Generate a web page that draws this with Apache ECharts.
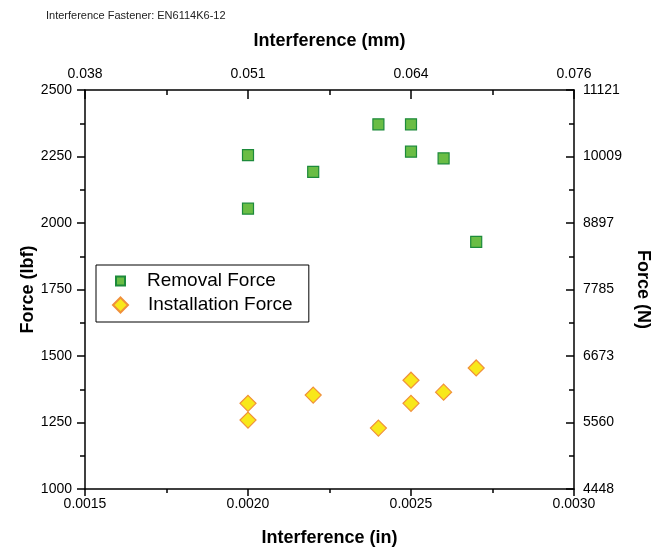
<!DOCTYPE html>
<html>
<head>
<meta charset="utf-8">
<script src="https://cdn.jsdelivr.net/npm/echarts@6/dist/echarts.min.js"></script>
<style>
  html, body { margin: 0; padding: 0; background: #fff; }
  #chart { width: 654px; height: 548px; }
</style>
</head>
<body>
<div id="chart"></div>
<script>
// interference (in) vs force (lbf)
var removalX = [0.0020, 0.0020, 0.0022, 0.0024, 0.0025, 0.0025, 0.0026, 0.0027];
var removalY = [2255, 2054, 2192, 2371, 2371, 2268, 2243, 1929];
var installX = [0.0020, 0.0020, 0.0022, 0.0024, 0.0025, 0.0025, 0.0026, 0.0027];
var installY = [1322, 1259, 1353, 1229, 1409, 1322, 1364, 1455];

// secondary axis tick labels
var mmLabels = ['0.038', '0.051', '0.064', '0.076'];
var newtonLabels = ['4448', '5560', '6673', '7785', '8897', '10009', '11121'];

function pairs(xs, ys) {
    return xs.map(function (x, i) { return [x, ys[i]]; });
}

var FONT = '"Liberation Sans", Arial, sans-serif';
var axisLineStyle = {color: '#000', width: 1.5};

var chart = echarts.init(document.getElementById('chart'));

var option = {
    backgroundColor: '#fff',
    animation: false,
    title: {
        text: 'Interference Fastener: EN6114K6-12',
        left: 41,
        top: 5,
        textStyle: {fontFamily: FONT, fontSize: 11, fontWeight: 'normal', color: '#222'}
    },
    grid: {left: 85, right: 80, top: 90, bottom: 59, outerBoundsMode: 'none', containLabel: false},
    legend: [
        {
            data: ['Removal Force'],
            left: 96,
            top: 265,
            padding: [6, 33, 31, 19],
            borderColor: '#000',
            borderWidth: 1,
            itemWidth: 9,
            itemHeight: 9,
            textStyle: {fontFamily: FONT, fontSize: 19, color: '#000', lineHeight: 20, padding: [0, 0, 0, 17]}
        },
        {
            data: ['Installation Force'],
            left: 112,
            top: 295,
            padding: 0,
            itemWidth: 15,
            itemHeight: 15,
            textStyle: {fontFamily: FONT, fontSize: 19, color: '#000', lineHeight: 20, padding: [0, 0, 0, 15]}
        }
    ],
    xAxis: [
        {
            type: 'value',
            position: 'bottom',
            min: 0.0015,
            max: 0.0030,
            interval: 0.0005,
            name: 'Interference (in)',
            nameLocation: 'middle',
            nameGap: 40,
            nameTextStyle: {fontFamily: FONT, fontSize: 18, fontWeight: 'bold', color: '#000'},
            axisLine: {lineStyle: axisLineStyle},
            axisTick: {inside: false, length: 7, lineStyle: axisLineStyle},
            minorTick: {show: true, splitNumber: 2, length: 4, lineStyle: {color: '#000', width: 1.5}},
            splitLine: {show: false},
            axisLabel: {
                margin: 8,
                fontFamily: FONT, fontSize: 14, color: '#000',
                formatter: function (v) { return v.toFixed(4); }
            }
        },
        {
            type: 'value',
            position: 'top',
            min: 0.0015,
            max: 0.0030,
            interval: 0.0005,
            name: 'Interference (mm)',
            nameLocation: 'middle',
            nameGap: 40,
            nameTextStyle: {fontFamily: FONT, fontSize: 18, fontWeight: 'bold', color: '#000'},
            axisLine: {lineStyle: axisLineStyle},
            axisTick: {inside: true, length: 9, lineStyle: axisLineStyle},
            minorTick: {show: true, splitNumber: 2, length: 5, lineStyle: {color: '#000', width: 1.5}},
            splitLine: {show: false},
            axisLabel: {
                margin: 9,
                fontFamily: FONT, fontSize: 14, color: '#000',
                formatter: function (v) { return mmLabels[Math.round((v - 0.0015) / 0.0005)]; }
            }
        }
    ],
    yAxis: [
        {
            type: 'value',
            position: 'left',
            min: 1000,
            max: 2500,
            interval: 250,
            name: 'Force (lbf)',
            nameLocation: 'middle',
            nameGap: 48,
            nameMoveOverlap: false,
            nameRotate: 90,
            nameTextStyle: {fontFamily: FONT, fontSize: 18, fontWeight: 'bold', color: '#000'},
            axisLine: {lineStyle: axisLineStyle},
            axisTick: {inside: false, length: 8, lineStyle: axisLineStyle},
            minorTick: {show: true, splitNumber: 2, length: 5, lineStyle: {color: '#000', width: 1.5}},
            splitLine: {show: false},
            axisLabel: {
                margin: 13, fontFamily: FONT, fontSize: 14, color: '#000',
                formatter: function (v) { return String(v); }
            }
        },
        {
            type: 'value',
            position: 'right',
            min: 1000,
            max: 2500,
            interval: 250,
            name: 'Force (N)',
            nameLocation: 'middle',
            nameGap: 60,
            nameRotate: -90,
            nameTextStyle: {fontFamily: FONT, fontSize: 18, fontWeight: 'bold', color: '#000'},
            axisLine: {lineStyle: axisLineStyle},
            axisTick: {inside: true, length: 8, lineStyle: axisLineStyle},
            minorTick: {show: true, splitNumber: 2, length: 5, lineStyle: {color: '#000', width: 1.5}},
            splitLine: {show: false},
            axisLabel: {
                margin: 9,
                fontFamily: FONT, fontSize: 14, color: '#000',
                formatter: function (v) { return newtonLabels[Math.round((v - 1000) / 250)]; }
            }
        }
    ],
    series: [
        {
            name: 'Removal Force',
            type: 'scatter',
            symbol: 'rect',
            symbolSize: 11,
            itemStyle: {color: '#6abd45', borderColor: '#1d8a3b', borderWidth: 1.2, opacity: 1},
            data: pairs(removalX, removalY)
        },
        {
            name: 'Installation Force',
            type: 'scatter',
            symbol: 'diamond',
            symbolSize: 16,
            itemStyle: {color: '#f8e81a', borderColor: '#f0903a', borderWidth: 1.2, opacity: 1},
            data: pairs(installX, installY)
        }
    ]
};

chart.setOption(option);
</script>
</body>
</html>
